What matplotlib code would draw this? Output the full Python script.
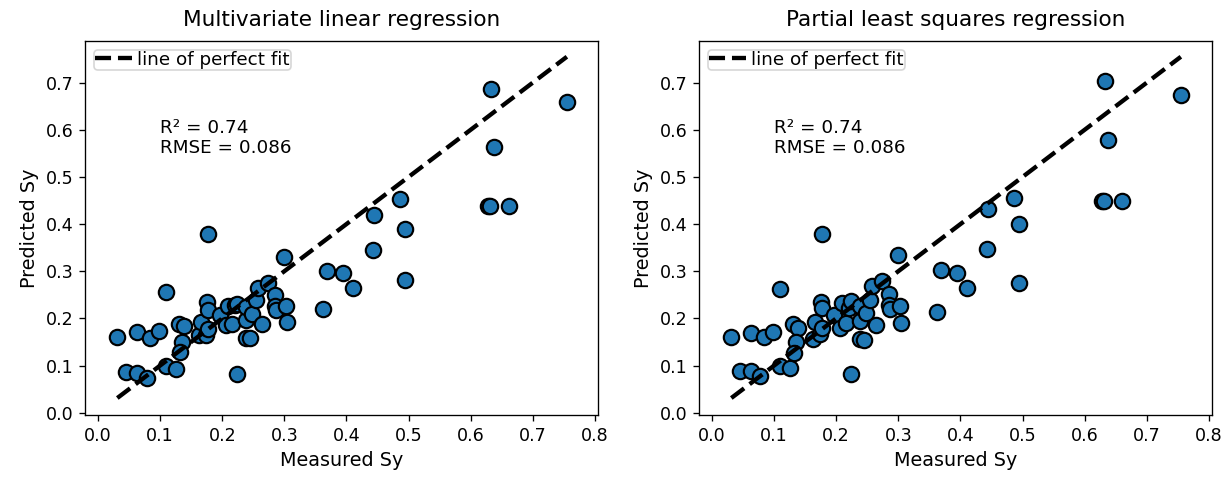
import numpy as np
import matplotlib
matplotlib.use("Agg")
import matplotlib.pyplot as plt

# measured Sy (same samples in both panels)
measured = [0.031, 0.045, 0.063, 0.062, 0.078, 0.084, 0.098, 0.109, 0.109, 0.125,
            0.130, 0.138, 0.135, 0.132, 0.163, 0.165, 0.174, 0.177, 0.176, 0.177,
            0.177, 0.197, 0.206, 0.209, 0.216, 0.221, 0.223, 0.223, 0.239, 0.239,
            0.239, 0.244, 0.248, 0.255, 0.258, 0.264, 0.274, 0.285, 0.285, 0.287,
            0.299, 0.303, 0.304, 0.363, 0.368, 0.395, 0.410, 0.442, 0.444, 0.486,
            0.494, 0.494, 0.628, 0.632, 0.633, 0.637, 0.661, 0.755]

# predicted Sy, multivariate linear regression
pred_mlr = [0.161, 0.087, 0.085, 0.171, 0.074, 0.159, 0.173, 0.255, 0.099, 0.092,
            0.187, 0.183, 0.150, 0.129, 0.164, 0.192, 0.164, 0.178, 0.235, 0.217,
            0.380, 0.207, 0.185, 0.227, 0.189, 0.229, 0.230, 0.082, 0.196, 0.224,
            0.158, 0.158, 0.210, 0.238, 0.264, 0.187, 0.274, 0.249, 0.227, 0.217,
            0.331, 0.227, 0.192, 0.219, 0.301, 0.296, 0.264, 0.345, 0.420, 0.454,
            0.389, 0.281, 0.439, 0.439, 0.686, 0.563, 0.438, 0.658]

# predicted Sy, partial least squares regression
pred_pls = [0.161, 0.088, 0.088, 0.170, 0.078, 0.161, 0.171, 0.262, 0.099, 0.095,
            0.187, 0.180, 0.149, 0.127, 0.156, 0.192, 0.166, 0.180, 0.235, 0.223,
            0.378, 0.207, 0.180, 0.232, 0.191, 0.221, 0.237, 0.083, 0.194, 0.226,
            0.156, 0.154, 0.212, 0.238, 0.269, 0.186, 0.279, 0.252, 0.229, 0.219,
            0.335, 0.226, 0.191, 0.214, 0.303, 0.296, 0.264, 0.347, 0.433, 0.456,
            0.401, 0.274, 0.448, 0.448, 0.704, 0.578, 0.450, 0.674]

titles = ["Multivariate linear regression", "Partial least squares regression"]
stats_text = "R\u00b2 = 0.74\nRMSE = 0.086"

fig = plt.figure(figsize=(1227 / 120, 478 / 120), dpi=120)
ax1 = fig.add_axes([0.0693, 0.1318, 0.418, 0.783])
ax2 = fig.add_axes([0.5697, 0.1318, 0.418, 0.783])

lo, hi = min(measured), max(measured)
for ax, pred, title in zip([ax1, ax2], [pred_mlr, pred_pls], titles):
    ax.scatter(measured, pred, s=85, color="#1f77b4", edgecolors="black",
               linewidths=1.3, zorder=2)
    ax.plot([lo, hi], [lo, hi], "k--", lw=2.6, label="line of perfect fit", zorder=3)
    ax.text(0.1, 0.55, stats_text, fontsize=11)
    ax.set_xlim(-0.021, 0.805)
    ax.set_ylim(-0.005, 0.789)
    ax.set_xticks(np.arange(0, 0.81, 0.1))
    ax.set_yticks(np.arange(0, 0.71, 0.1))
    ax.tick_params(labelsize=10.5)
    ax.set_xlabel("Measured Sy", fontsize=11.5)
    ax.set_ylabel("Predicted Sy", fontsize=11.5)
    ax.set_title(title, fontsize=13, pad=9)
    ax.legend(loc="upper left", fontsize=11, borderpad=0.05, handletextpad=0.3,
              borderaxespad=0.5, fancybox=True)

fig.savefig("out.png", dpi=120)
